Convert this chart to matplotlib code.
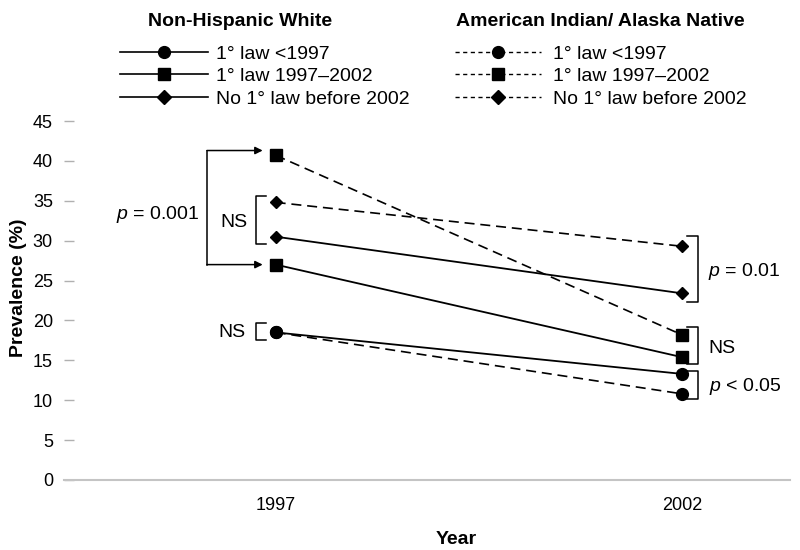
import matplotlib
matplotlib.use('Agg')
import matplotlib.pyplot as plt
from matplotlib.lines import Line2D

plt.rcParams['font.family'] = ['Liberation Sans', 'DejaVu Sans']
plt.rcParams['mathtext.fontset'] = 'custom'
plt.rcParams['mathtext.it'] = 'Liberation Sans:italic'
plt.rcParams['mathtext.rm'] = 'Liberation Sans'

# data
years = [1997, 2002]
groups = ['1° law <1997', '1° law 1997–2002', 'No 1° law before 2002']
markers = ['o', 's', 'D']
nhw_lt1997 = [18.5, 13.3]
nhw_9702 = [27.0, 15.4]
nhw_none = [30.5, 23.4]
ai_lt1997 = [18.5, 10.8]
ai_9702 = [40.7, 18.2]
ai_none = [34.8, 29.3]

nhw = [nhw_lt1997, nhw_9702, nhw_none]
ai = [ai_lt1997, ai_9702, ai_none]
msizes = {'o': 8.5, 's': 8, 'D': 5.8}

fig = plt.figure(figsize=(8, 5.5), dpi=100)
ax = fig.add_axes([64/800, 1-480/550, 726/800, 359/550])

for vals, m in zip(ai, markers):
    ax.plot(years, vals, color='black', lw=1.2, ls=(0, (6, 3.5)), marker=m,
            ms=msizes[m], clip_on=False, zorder=3)
for vals, m in zip(nhw, markers):
    ax.plot(years, vals, color='black', lw=1.3, ls='-', marker=m,
            ms=msizes[m], clip_on=False, zorder=3)

ax.set_xlim(1994.395, 2003.33)
ax.set_ylim(0, 45)
ax.set_yticks(range(0, 46, 5))
ax.set_xticks(years)
for s in ['top', 'right', 'left']:
    ax.spines[s].set_visible(False)
ax.spines['bottom'].set_color('#c4c4c4')
ax.spines['bottom'].set_linewidth(1.5)
ax.tick_params(axis='y', direction='in', length=7, width=1, color='#b0b0b0',
               labelsize=13, pad=8)
ax.tick_params(axis='x', length=0, labelsize=13, pad=12)

ax.set_xlabel('Year', fontsize=14, fontweight='bold')
ax.xaxis.set_label_coords((456-64)/726, (480-531)/359)
ax.set_ylabel('Prevalence (%)', fontsize=14, fontweight='bold')
ax.yaxis.set_label_coords((27-64)/726, (480-288)/359)


def bracket(x_vert, x_end, y_top, y_bot):
    ax.plot([x_end, x_vert, x_vert, x_end], [y_top, y_top, y_bot, y_bot],
            color='black', lw=1.1, clip_on=False, zorder=2)


# left side (1997)
x0 = years[0]
bracket(x0 - 0.247, x0 - 0.123, ai_none[0] + 0.8, nhw_none[0] - 0.9)
ax.text(x0 - 0.35, 32.3, 'NS', fontsize=14, ha='right', va='center')
bracket(x0 - 0.247, x0 - 0.123, nhw_lt1997[0] + 1.2, nhw_lt1997[0] - 1.0)
ax.text(x0 - 0.37, nhw_lt1997[0], 'NS', fontsize=14, ha='right', va='center')

xv = x0 - 0.84
ax.plot([xv, xv], [ai_9702[0] + 0.6, nhw_9702[0]], color='black', lw=1.1, zorder=2)
for yy in [ai_9702[0] + 0.6, nhw_9702[0]]:
    ax.annotate('', xy=(x0 - 0.16, yy), xytext=(xv - 0.006, yy),
                arrowprops=dict(arrowstyle='-|>', color='black', lw=1.1,
                                mutation_scale=11, shrinkA=0, shrinkB=0))
ax.text(x0 - 0.94, 33.3, '$p$ = 0.001', fontsize=14, ha='right', va='center')

# right side (2002)
x1 = years[1]
bracket(x1 + 0.198, x1 + 0.062, ai_none[1] + 1.3, nhw_none[1] - 1.1)
ax.text(x1 + 0.32, 26.1, '$p$ = 0.01', fontsize=14, ha='left', va='center')
bracket(x1 + 0.198, x1 + 0.062, ai_9702[1] + 1.0, nhw_9702[1] - 0.9)
ax.text(x1 + 0.33, 16.5, 'NS', fontsize=14, ha='left', va='center')
bracket(x1 + 0.198, x1 + 0.062, nhw_lt1997[1] + 0.4, ai_lt1997[1] - 0.6)
ax.text(x1 + 0.33, 11.7, '$p$ < 0.05', fontsize=14, ha='left', va='center')

# legends
fig.text(240/800, 1-21/550, 'Non-Hispanic White', fontsize=14,
         fontweight='bold', ha='center', va='center')
fig.text(600/800, 1-21/550, 'American Indian/ Alaska Native', fontsize=14,
         fontweight='bold', ha='center', va='center')

leg_ms = {'o': 8.5, 's': 8.5, 'D': 7.5}
h1 = [Line2D([], [], color='black', lw=1.2, marker=m, ms=leg_ms[m]) for m in markers]
h2 = [Line2D([], [], color='black', lw=1.0, ls=(0, (3, 2.5)), marker=m, ms=leg_ms[m])
      for m in markers]
fig.legend(h1, groups, loc='upper left', bbox_to_anchor=(120/800, 1-45/550),
           frameon=False, borderpad=0, borderaxespad=0, handlelength=4.5,
           handletextpad=0.45, labelspacing=0.26, fontsize=14)
fig.legend(h2, groups, loc='upper left', bbox_to_anchor=(455/800, 1-45/550),
           frameon=False, borderpad=0, borderaxespad=0, handlelength=4.4,
           handletextpad=0.65, labelspacing=0.26, fontsize=14)

fig.savefig('out.png', dpi=100)
